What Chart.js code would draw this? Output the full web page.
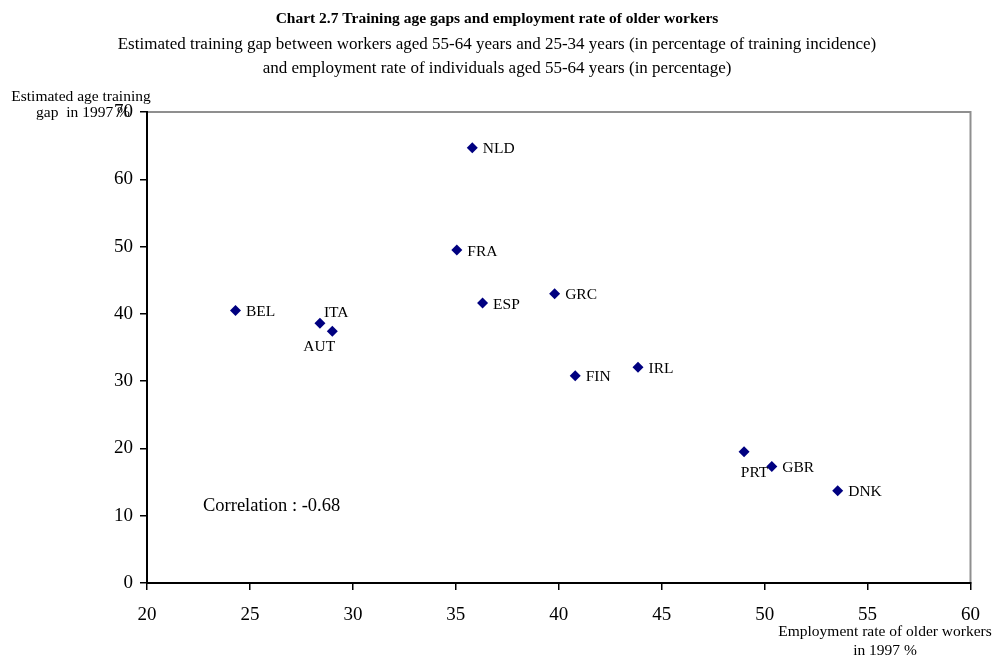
<!DOCTYPE html>
<html>
<head>
<meta charset="utf-8">
<title>Training age gaps and employment rate of older workers</title>
<script src="https://cdn.jsdelivr.net/npm/chart.js@4/dist/chart.umd.min.js"></script>
<style>
  html, body { margin: 0; padding: 0; background: #ffffff; }
  #wrap { width: 994px; height: 657px; position: relative; }
</style>
</head>
<body>
<div id="wrap"><canvas id="chart" width="994" height="657"></canvas></div>
<script>
// Countries and their values (1997)
const countries = ['NLD', 'FRA', 'ESP', 'BEL', 'ITA', 'AUT', 'GRC', 'FIN', 'IRL', 'PRT', 'GBR', 'DNK'];
// Employment rate of individuals aged 55-64 (%)
const employmentRate = [35.8, 35.05, 36.3, 24.3, 28.4, 29.0, 39.8, 40.8, 43.85, 49.0, 50.35, 53.55];
// Estimated training gap between workers aged 55-64 and 25-34 (%)
const trainingGap = [64.7, 49.5, 41.6, 40.5, 38.6, 37.4, 43.0, 30.8, 32.05, 19.5, 17.3, 13.7];

const xTickValues = [20, 25, 30, 35, 40, 45, 50, 55, 60];
const yTickValues = [0, 10, 20, 30, 40, 50, 60, 70];

const correlation = -0.68;

const titleText = 'Chart 2.7 Training age gaps and employment rate of older workers';
const subtitleLines = [
  'Estimated training gap between workers aged 55-64 years and 25-34 years (in percentage of training incidence)',
  'and employment rate of individuals aged 55-64 years (in percentage)'
];
const yAxisTitle = ['Estimated age training', 'gap  in 1997 %'];
const xAxisTitle = ['Employment rate of older workers', 'in 1997 %'];

// Where each country name sits relative to its marker (default: right)
const labelPlacement = { ITA: 'aboveRight', AUT: 'belowLeft', PRT: 'belowRight' };

const SERIF = "'Liberation Serif', 'Times New Roman', Times, serif";

const points = countries.map((c, i) => ({ x: employmentRate[i], y: trainingGap[i], label: c }));

// Grey frame around the plot area, drawn beneath the black axes
const framePlugin = {
  id: 'frame',
  beforeDraw(chart) {
    const { ctx, chartArea: a } = chart;
    ctx.save();
    ctx.strokeStyle = '#8f8f8f';
    ctx.lineWidth = 2;
    ctx.strokeRect(a.left, a.top, a.right - a.left, a.bottom - a.top);
    ctx.restore();
  }
};

// Country names next to the markers
const pointLabelPlugin = {
  id: 'pointLabels',
  afterDatasetsDraw(chart) {
    const { ctx } = chart;
    const meta = chart.getDatasetMeta(0);
    ctx.save();
    ctx.font = '15.5px ' + SERIF;
    ctx.fillStyle = '#000';
    ctx.textBaseline = 'middle';
    meta.data.forEach((el, i) => {
      const name = points[i].label;
      const place = labelPlacement[name] || 'right';
      let x = el.x, y = el.y;
      if (place === 'right') { ctx.textAlign = 'left'; x += 10.5; y += 1.5; }
      else if (place === 'aboveRight') { ctx.textAlign = 'left'; x += 4; y -= 10.5; }
      else if (place === 'belowLeft') { ctx.textAlign = 'center'; x -= 13; y += 16; }
      else if (place === 'belowRight') { ctx.textAlign = 'center'; x += 10.5; y += 21; }
      ctx.fillText(name, x, y);
    });
    ctx.restore();
  }
};

// Titles, axis captions and the correlation note
const textPlugin = {
  id: 'texts',
  afterDraw(chart) {
    const { ctx } = chart;
    ctx.save();
    ctx.fillStyle = '#000';
    ctx.textBaseline = 'middle';
    ctx.textAlign = 'center';
    ctx.font = 'bold 15.5px ' + SERIF;
    ctx.fillText(titleText, 497, 19);
    ctx.font = '17px ' + SERIF;
    ctx.fillText(subtitleLines[0], 497, 45);
    ctx.fillText(subtitleLines[1], 497, 69);

    ctx.font = '15.5px ' + SERIF;
    ctx.fillText(yAxisTitle[0], 81, 97);
    ctx.fillText(yAxisTitle[1], 83, 113);
    ctx.fillText(xAxisTitle[0], 885, 632);
    ctx.fillText(xAxisTitle[1], 885, 651);

    ctx.textAlign = 'left';
    ctx.font = '18.5px ' + SERIF;
    ctx.fillText('Correlation : ' + correlation.toFixed(2), 203, 506);
    ctx.restore();
  }
};

new Chart(document.getElementById('chart'), {
  type: 'scatter',
  data: {
    datasets: [{
      label: 'Countries',
      data: points,
      pointStyle: 'rectRot',
      pointRadius: 5.5,
      pointHoverRadius: 5.5,
      backgroundColor: '#000080',
      borderColor: '#000080',
      borderWidth: 0
    }]
  },
  options: {
    responsive: false,
    animation: false,
    events: [],
    layout: { padding: { top: 112, right: 21, left: 0, bottom: 0 } },
    plugins: {
      legend: { display: false },
      tooltip: { enabled: false },
      title: { display: false }
    },
    scales: {
      x: {
        type: 'linear',
        min: 20,
        max: 60,
        afterBuildTicks(scale) { scale.ticks = xTickValues.map(v => ({ value: v })); },
        afterFit(scale) { scale.height = 74; },
        grid: { display: true, drawOnChartArea: false, drawTicks: true, tickLength: 7, color: '#000', lineWidth: 1.5 },
        border: { display: true, color: '#000', width: 2 },
        ticks: { color: '#000', font: { family: SERIF, size: 19 }, padding: 14, maxRotation: 0, autoSkip: false }
      },
      y: {
        type: 'linear',
        min: 0,
        max: 70,
        afterBuildTicks(scale) { scale.ticks = yTickValues.map(v => ({ value: v })); },
        afterFit(scale) { scale.width = 147; },
        grid: { display: true, drawOnChartArea: false, drawTicks: true, tickLength: 7, color: '#000', lineWidth: 1.5 },
        border: { display: true, color: '#000', width: 2 },
        ticks: { color: '#000', font: { family: SERIF, size: 19 }, padding: 7, autoSkip: false }
      }
    }
  },
  plugins: [framePlugin, pointLabelPlugin, textPlugin]
});
</script>
</body>
</html>
